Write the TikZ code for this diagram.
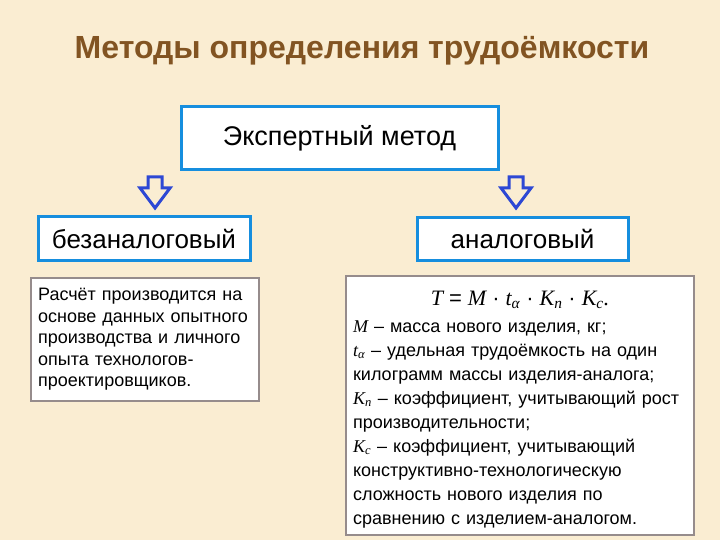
\documentclass[tikz,border=0pt]{standalone}
\usepackage{fontspec}
\setmainfont{Liberation Sans}
\newfontfamily\formulafont{Liberation Serif}
\usetikzlibrary{positioning}
\definecolor{SoftBeige}{RGB}{250,237,210}
\definecolor{TitleBrown}{RGB}{130,84,34}
\definecolor{FrameBlue}{RGB}{22,142,222}
\definecolor{ArrowBlue}{RGB}{45,72,212}
\definecolor{NoteGray}{RGB}{150,140,140}
\tikzset{
  headline/.style={font=\fontsize{32}{36}\selectfont\bfseries,text=TitleBrown},
  methodbox/.style={draw=FrameBlue,fill=white,line width=3pt,
    font=\fontsize{26}{30}\selectfont,inner sep=0pt},
  notebox/.style={draw=NoteGray,fill=white,line width=2.2pt,anchor=north west,
    align=left,inner sep=7pt},
  downarrow/.pic={
    \draw[ArrowBlue,line width=3pt,line join=miter]
      (-7,0) -- (7,0) -- (7,11) -- (15,11) -- (0,31) -- (-15,11) -- (-7,11) -- cycle;}
}
\newcommand{\fml}[1]{{\formulafont\itshape #1}}

\begin{document}
\begin{tikzpicture}[x=1pt,y=-1pt]
  \fill[SoftBeige] (0,0) rectangle (720,540);
  \useasboundingbox (0,0) rectangle (720,540);

  \node[headline] (title) at (362,51) {Методы определения трудоёмкости};

  \node[methodbox,minimum width=317pt,minimum height=63pt,
    font=\fontsize{27}{32}\selectfont] (expert) at (339.5,138.5) {Экспертный метод};

  \node[methodbox,minimum width=212pt,minimum height=43pt] (noanalog) at (144,238.5) {безаналоговый};
  \node[methodbox,minimum width=211pt,minimum height=42pt] (analog) at (522.5,239) {аналоговый};

  % hollow arrows under the top box
  \pic at (155,177) {downarrow};
  \pic at (516,177) {downarrow};

  \node[notebox,minimum width=228pt,minimum height=123pt,text width=214pt,
    font=\fontsize{18}{21.5}\selectfont] (noanalogtext) at (30,277)
    {Расчёт производится на\\
     основе данных опытного\\
     производства и личного\\
     опыта технологов-\\
     проектировщиков.};

  \node[notebox,minimum width=348pt,minimum height=257pt,text width=334pt,
    font=\fontsize{18}{24}\selectfont] (analogtext) at (345,275)
    {\makebox[\linewidth][c]{\fontsize{22}{24}\selectfont\rule{0pt}{22pt}%
       \fml{T} = \fml{M} · \fml{t\textsubscript{α}} · \fml{K\textsubscript{п}} · \fml{K\textsubscript{с}.}}\\[3pt]
     \fml{M} – масса нового изделия, кг;\\
     \fml{t\textsubscript{α}} – удельная трудоёмкость на один\\
     килограмм массы изделия-аналога;\\
     \fml{K\textsubscript{п}} – коэффициент, учитывающий рост\\
     производительности;\\
     \fml{K\textsubscript{с}} – коэффициент, учитывающий\\
     конструктивно-технологическую\\
     сложность нового изделия по\\
     сравнению с изделием-аналогом.};
\end{tikzpicture}
\end{document}
